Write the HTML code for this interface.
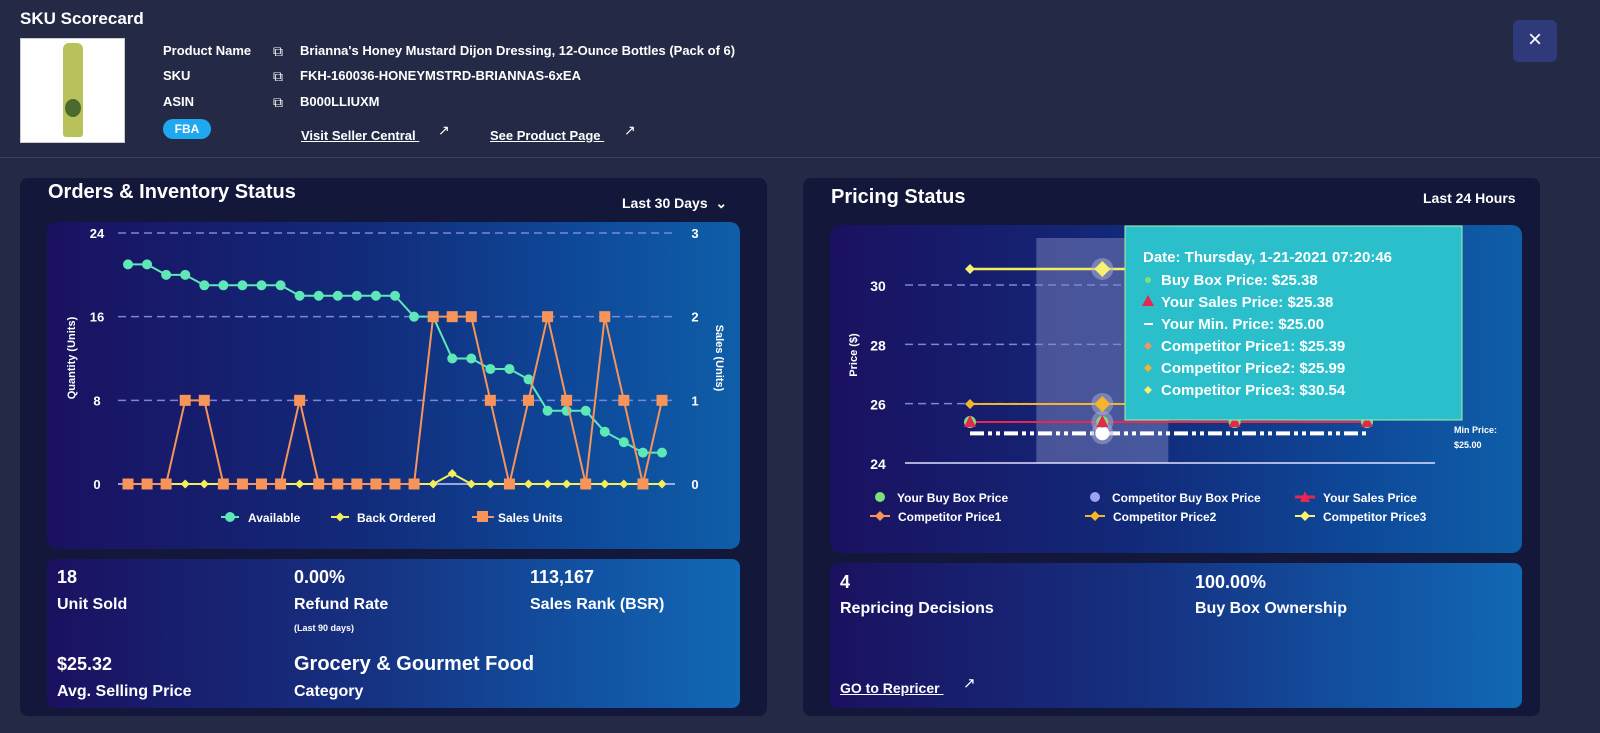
<!DOCTYPE html>
<html><head><meta charset="utf-8">
<style>
*{margin:0;padding:0;box-sizing:border-box}
body{width:1600px;height:733px;background:#242a45;font-family:"Liberation Sans",sans-serif;color:#fff;position:relative;overflow:hidden}
.a{position:absolute;white-space:nowrap}
.b{font-weight:bold}
.panel{position:absolute;background:#13173a;border-radius:8px}
.grad{position:absolute;border-radius:10px;background:linear-gradient(90deg,#1a1160 0%,#122a7a 45%,#0e4c9c 80%,#0f5ea8 100%)}
.grad2{position:absolute;border-radius:8px;background:linear-gradient(90deg,#1a1160 0%,#163080 45%,#1254a4 80%,#1168b4 100%)}
.lnk{text-decoration:underline;font-size:13px;font-weight:bold}
</style></head><body>
<div class="a b" style="left:20px;top:9px;font-size:17px">SKU Scorecard</div>
<div class="a" style="left:20px;top:38px;width:105px;height:105px;background:#fff;border:1px solid #ccc">
  <div style="position:absolute;left:42px;top:4px;width:20px;height:94px;background:#b8c15a;border-radius:6px 6px 3px 3px"></div>
  <div style="position:absolute;left:44px;top:60px;width:16px;height:18px;background:#4a6a30;border-radius:50%"></div>
</div>
<div class="a b" style="left:163px;top:43px;font-size:13px">Product Name</div>
<div class="a b" style="left:163px;top:68px;font-size:13px">SKU</div>
<div class="a b" style="left:163px;top:94px;font-size:13px">ASIN</div>
<div class="a" style="left:273px;top:43px;font-size:14px">⧉</div>
<div class="a" style="left:273px;top:68px;font-size:14px">⧉</div>
<div class="a" style="left:273px;top:94px;font-size:14px">⧉</div>
<div class="a b" style="left:300px;top:43px;font-size:13px">Brianna's Honey Mustard Dijon Dressing, 12-Ounce Bottles (Pack of 6)</div>
<div class="a b" style="left:300px;top:68px;font-size:13px">FKH-160036-HONEYMSTRD-BRIANNAS-6xEA</div>
<div class="a b" style="left:300px;top:94px;font-size:13px">B000LLIUXM</div>
<div class="a b" style="left:163px;top:119px;width:48px;height:20px;border-radius:10px;background:#1fa8f0;font-size:12px;text-align:center;line-height:20px">FBA</div>
<div class="a lnk" style="left:301px;top:128px">Visit Seller Central&nbsp;</div>
<div class="a" style="left:438px;top:122px;font-size:14px">↗</div>
<div class="a lnk" style="left:490px;top:128px">See Product Page&nbsp;</div>
<div class="a" style="left:624px;top:122px;font-size:14px">↗</div>
<div class="a" style="left:1513px;top:20px;width:44px;height:42px;background:#2f3a7a;border-radius:6px;text-align:center;line-height:40px;font-size:24px">×</div>
<div class="a" style="left:0;top:157px;width:1600px;height:1px;background:#3a4163"></div>

<div class="panel" style="left:20px;top:178px;width:747px;height:538px"></div>
<div class="a b" style="left:48px;top:181px;font-size:20px">Orders &amp; Inventory Status</div>
<div class="a b" style="left:622px;top:195px;font-size:14px">Last 30 Days &nbsp;⌄</div>
<div class="grad" style="left:47px;top:222px;width:693px;height:327px"></div>
<div class="grad2" style="left:47px;top:559px;width:693px;height:149px"></div>
<div class="a b" style="left:57px;top:567px;font-size:18px">18</div>
<div class="a b" style="left:57px;top:596px;font-size:16px">Unit Sold</div>
<div class="a b" style="left:294px;top:567px;font-size:18px">0.00%</div>
<div class="a b" style="left:294px;top:596px;font-size:16px">Refund Rate</div>
<div class="a b" style="left:294px;top:623px;font-size:9px">(Last 90 days)</div>
<div class="a b" style="left:530px;top:567px;font-size:18px">113,167</div>
<div class="a b" style="left:530px;top:596px;font-size:16px">Sales Rank (BSR)</div>
<div class="a b" style="left:57px;top:654px;font-size:18px">$25.32</div>
<div class="a b" style="left:57px;top:683px;font-size:16px">Avg. Selling Price</div>
<div class="a b" style="left:294px;top:653px;font-size:20px">Grocery &amp; Gourmet Food</div>
<div class="a b" style="left:294px;top:683px;font-size:16px">Category</div>

<div class="panel" style="left:803px;top:178px;width:737px;height:538px"></div>
<div class="a b" style="left:831px;top:186px;font-size:20px">Pricing Status</div>
<div class="a b" style="left:1423px;top:190px;font-size:14px">Last 24 Hours</div>
<div class="grad" style="left:830px;top:225px;width:692px;height:328px"></div>
<div class="grad2" style="left:830px;top:563px;width:692px;height:145px"></div>
<div class="a b" style="left:840px;top:572px;font-size:18px">4</div>
<div class="a b" style="left:840px;top:600px;font-size:16px">Repricing Decisions</div>
<div class="a b" style="left:1195px;top:572px;font-size:18px">100.00%</div>
<div class="a b" style="left:1195px;top:600px;font-size:16px">Buy Box Ownership</div>
<div class="a lnk" style="left:840px;top:680px;font-size:14px">GO to Repricer&nbsp;</div>
<div class="a" style="left:963px;top:674px;font-size:15px">↗</div>

<svg id="svg" class="a" style="left:0;top:0" width="1600" height="733" font-family="Liberation Sans, sans-serif" font-weight="bold"></svg>

<script>
// Orders & inventory data
const availableVals=[21,21,20,20,19,19,19,19,19,18,18,18,18,18,18,16,16,12,12,11,11,10,7,7,7,5,4,3,3];
const backOrderedVals=[0,0,0,0,0,0,0,0,0,0,0,0,0,0,0,0,0,1,0,0,0,0,0,0,0,0,0,0,0];
const salesUnitVals=[0,0,0,1,1,0,0,0,0,1,0,0,0,0,0,0,2,2,2,1,0,1,2,1,0,2,1,0,1];
const leftTicks=[0,8,16,24];
const rightTicks=[0,1,2,3];
// Pricing data
const priceTimes=[0,1,2,3];
const buyBoxPrices=[25.38,25.38,25.38,25.38];
const salesPrices=[25.38,25.38,25.38,25.38];
const minPrices=[25.00,25.00,25.00,25.00];
const comp1Prices=[25.39,25.39,25.39,25.39];
const comp2Prices=[25.99,25.99,25.99,25.99];
const comp3Prices=[30.54,30.54,30.54,30.54];
const priceTicks=[24,26,28,30];

const NS='http://www.w3.org/2000/svg';
const svg=document.getElementById('svg');
function mk(tag,attrs,parent){const e=document.createElementNS(NS,tag);for(const k in attrs)e.setAttribute(k,attrs[k]);(parent||svg).appendChild(e);return e;}
function txt(x,y,s,size,anchor,parent){const t=mk('text',{x:x,y:y,fill:'#fff','font-size':size,'text-anchor':anchor||'start'},parent);t.textContent=s;return t;}

// left axes
const lx=i=>128+i*(662-128)/(availableVals.length-1);
const ly=v=>484-v*(251/24);
const ry=v=>484-v*(251/3);
leftTicks.forEach((t,i)=>{
  const g=mk('line',{x1:118,x2:675,y1:ly(t),y2:ly(t),stroke:t===0?'#c8c8ff':'#7b86d8','stroke-width':1.5,'stroke-dasharray':t===0?'':'8 5'});
  
  const l=txt(97,ly(t)+5,String(t),13,'middle');
  
});
rightTicks.forEach(t=>{
  const l=txt(695,ry(t)+5,String(t),13,'middle');
  
});
let yt=txt(0,0,'Quantity (Units)',11,'middle');yt.setAttribute('transform','translate(75,358) rotate(-90)');

yt=txt(0,0,'Sales (Units)',11,'middle');yt.setAttribute('transform','translate(716,358) rotate(90)');


function poly(vals,xf,yf,color,w,name){
  const p=mk('polyline',{points:vals.map((v,i)=>xf(i)+','+yf(v)).join(' '),fill:'none',stroke:color,'stroke-width':w});
  
}
function diamond(x,y,r,color,parent){return mk('polygon',{points:`${x},${y-r} ${x+r},${y} ${x},${y+r} ${x-r},${y}`,fill:color},parent);}

poly(availableVals,lx,ly,'#5ee8b8',2,'available-line');
availableVals.forEach((v,i)=>{const c=mk('circle',{cx:lx(i),cy:ly(v),r:5,fill:'#5ee8b8'});
  });
poly(backOrderedVals,lx,ly,'#f3ee5a',2,'back-ordered-line');
backOrderedVals.forEach((v,i)=>{const d=diamond(lx(i),ly(v),4.5,'#f3ee5a');
  });
poly(salesUnitVals,lx,ry,'#f7945a',2,'sales-units-line');
salesUnitVals.forEach((v,i)=>{const r=mk('rect',{x:lx(i)-5.5,y:ry(v)-5.5,width:11,height:11,fill:'#f7945a'});
  });

// left legend
function legLine(x,y,color){mk('line',{x1:x-9,x2:x+9,y1:y,y2:y,stroke:color,'stroke-width':2});}
let lg=mk('g',{});
mk('line',{x1:221,x2:239,y1:517,y2:517,stroke:'#5ee8b8','stroke-width':2},lg);mk('circle',{cx:230,cy:517,r:5,fill:'#5ee8b8'},lg);txt(248,522,'Available',12,'start',lg);
lg=mk('g',{});
mk('line',{x1:331,x2:349,y1:517,y2:517,stroke:'#f3ee5a','stroke-width':2},lg);diamond(340,517,4.5,'#f3ee5a',lg);txt(357,522,'Back Ordered',12,'start',lg);
lg=mk('g',{});
mk('line',{x1:472,x2:494,y1:517,y2:517,stroke:'#f7945a','stroke-width':2},lg);mk('rect',{x:477,y:511,width:11,height:11,fill:'#f7945a'},lg);txt(498,522,'Sales Units',12,'start',lg);

// pricing chart
const px=i=>970+priceTimes[i]*(1367-970)/(priceTimes.length-1);
const py=v=>463-(v-24)*(178/6);
const hover=1;
const band=mk('rect',{x:px(hover)-66,y:238,width:132,height:225,fill:'#8a90c8','fill-opacity':0.45});

priceTicks.forEach(t=>{
  const g=mk('line',{x1:905,x2:1435,y1:py(t),y2:py(t),stroke:t===24?'#e0e0ff':'#7b86d8','stroke-width':1.5,'stroke-dasharray':t===24?'':'8 5'});
  
  const l=txt(878,py(t)+6,String(t),14,'middle');
  
});
yt=txt(0,0,'Price ($)',11,'middle');yt.setAttribute('transform','translate(857,355) rotate(-90)');


poly(minPrices,px,py,'#fff',4,'min-price-line');svg.lastChild.setAttribute('stroke-dasharray','14 4 4 4 4 4');
poly(salesPrices,px,py,'#e8264f',2,'sales-price-line');
poly(comp2Prices,px,py,'#f5b42a',2,'competitor-price2-line');
poly(comp3Prices,px,py,'#f3ee5a',2.5,'competitor-price3-line');
poly(comp1Prices,px,py,'#f7945a',0,'competitor-price1-line');
priceTimes.forEach((t,i)=>{
  if(i===hover){
    [buyBoxPrices[i],comp2Prices[i],comp3Prices[i],minPrices[i]].forEach(v=>mk('circle',{cx:px(i),cy:py(v),r:11,fill:'#aab0d0','fill-opacity':0.5}));
    mk('circle',{cx:px(i),cy:py(minPrices[i]),r:7,fill:'#fff'});
  }
  const c=mk('circle',{cx:px(i),cy:py(buyBoxPrices[i]),r:6,fill:'#7ee07a'});
  
  const x=px(i),y=py(salesPrices[i]);
  const tr=mk('polygon',{points:`${x},${y-7} ${x+6},${y+5} ${x-6},${y+5}`,fill:'#e8264f'});
  
  let d=diamond(x,py(comp2Prices[i]),i===hover?8:5,'#f5b42a');
  
  d=diamond(x,py(comp3Prices[i]),i===hover?8:5,'#f8f070');
  
});
let mp=txt(1454,433,'Min Price:',9);
mp=txt(1454,448,'$25.00',9);

// pricing legend
const legItems=[
 ['Your Buy Box Price',880,497,'circle','#7ee07a'],['Competitor Buy Box Price',1095,497,'circle','#9aa4f0'],['Your Sales Price',1305,497,'star','#e8264f'],
 ['Competitor Price1',880,516,'line','#f7945a'],['Competitor Price2',1095,516,'line','#f5b42a'],['Competitor Price3',1305,516,'line','#f8f070']];
legItems.forEach(it=>{
  const g=mk('g',{});
  
  
  const [s,x,y,k,c]=it;
  if(k==='circle')mk('circle',{cx:x,cy:y,r:5,fill:c},g);
  else if(k==='star'){mk('line',{x1:x-10,x2:x+10,y1:y,y2:y,stroke:c,'stroke-width':3},g);mk('polygon',{points:`${x},${y-6} ${x+5},${y+5} ${x-5},${y+5}`,fill:c},g);}
  else{mk('line',{x1:x-10,x2:x+10,y1:y,y2:y,stroke:c,'stroke-width':2},g);diamond(x,y,5,c,g);}
  txt(x+(k==='circle'?17:18),y+5,s,12,'start',g);
});

// tooltip
const tip=mk('g',{});
mk('rect',{x:1125,y:226,width:337,height:194,fill:'#2bbfcb',stroke:'#a8f0a0','stroke-width':1},tip);
txt(1143,262,'Date: Thursday, 1-21-2021 07:20:46',15,'start',tip);
const tipLines=[['Buy Box Price: $25.38','dot','#7ee07a'],['Your Sales Price: $25.38','tri','#e8264f'],['Your Min. Price: $25.00','dash','#fff'],
 ['Competitor Price1: $25.39','dia','#f7945a'],['Competitor Price2: $25.99','dia','#f5b42a'],['Competitor Price3: $30.54','dia','#f8f070']];
tipLines.forEach((l,i)=>{
  const y=285+i*22,x=1148;
  if(l[1]==='dot')mk('circle',{cx:x,cy:y-5,r:3,fill:l[2]},tip);
  else if(l[1]==='tri')mk('polygon',{points:`${x},${y-12} ${x+6},${y-1} ${x-6},${y-1}`,fill:l[2]},tip);
  else if(l[1]==='dash')mk('rect',{x:x-4,y:y-6,width:9,height:2,fill:l[2]},tip);
  else diamond(x,y-5,4,l[2],tip);
  txt(1161,y,l[0],15,'start',tip);
});
</script>
</body></html>
